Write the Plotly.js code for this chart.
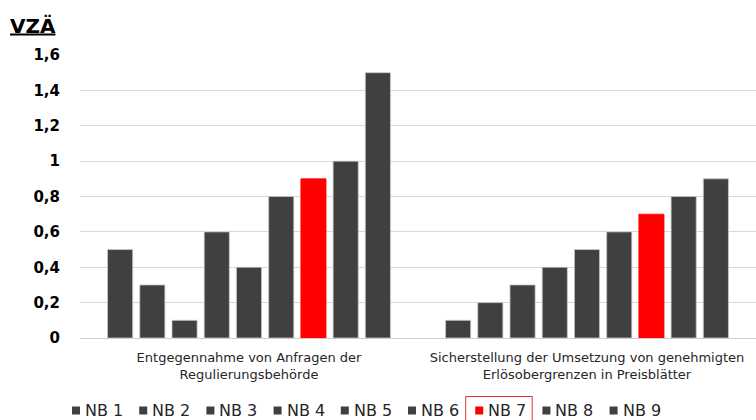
<!DOCTYPE html>
<html>
<head>
<meta charset="utf-8">
<script src="https://cdn.plot.ly/plotly-3.0.1.min.js"></script>
<style>
  html, body { margin: 0; padding: 0; background: #fff; }
  #chart { width: 756px; height: 420px; }
</style>
</head>
<body>
<div id="chart"></div>
<script>
const categories = [
  "Entgegennahme von Anfragen der<br>Regulierungsbehörde",
  "Sicherstellung der Umsetzung von genehmigten<br>Erlösobergrenzen in Preisblätter"
];
const seriesNames = ["NB 1", "NB 2", "NB 3", "NB 4", "NB 5", "NB 6", "NB 7", "NB 8", "NB 9"];
const valuesGroup1 = [0.5, 0.3, 0.1, 0.6, 0.4, 0.8, 0.9, 1.0, 1.5];
const valuesGroup2 = [0.1, 0.2, 0.3, 0.4, 0.5, 0.6, 0.7, 0.8, 0.9];
const highlightSeries = "NB 7";
const yTickVals = [0, 0.2, 0.4, 0.6, 0.8, 1, 1.2, 1.4, 1.6];
const yTickText = ["0", "0,2", "0,4", "0,6", "0,8", "1", "1,2", "1,4", "1,6"];

const FONT = "'DejaVu Sans', Verdana, sans-serif";
const GREY = "#404040";
const RED = "#ff0000";

// plot geometry (pixels)
const W = 756, H = 420;
const M = { l: 80, r: 0, t: 55, b: 82 };
const PW = W - M.l - M.r, PH = H - M.t - M.b;
const px2x = p => (p - M.l) / PW;
const py2y = p => (H - M.b - p) / PH;

const colorOf = name => name === highlightSeries ? RED : GREY;

const traces = seriesNames.map((name, i) => ({
  type: "bar",
  name: name,
  x: categories,
  y: [valuesGroup1[i], valuesGroup2[i]],
  marker: {
    color: colorOf(name),
    line: { color: name === highlightSeries ? RED : "#c8c8c8", width: 0.8 }
  },
  hoverinfo: "y+name",
  showlegend: false
}));

// custom legend (squares + labels) laid out like the reference
const legStart = 72, legStep = 67.2, legY = 410.5, sq = 8, txtOff = 11;
const shapes = [];
const annotations = [];
seriesNames.forEach((name, i) => {
  const x0 = legStart + legStep * i;
  shapes.push({
    type: "rect", xref: "paper", yref: "paper",
    x0: px2x(x0), x1: px2x(x0 + sq),
    y0: py2y(legY + sq / 2), y1: py2y(legY - sq / 2),
    fillcolor: colorOf(name), line: { width: 0 }
  });
  annotations.push({
    xref: "paper", yref: "paper",
    x: px2x(x0 + txtOff), y: py2y(legY),
    xanchor: "left", yanchor: "middle",
    text: name, showarrow: false,
    font: { family: FONT, size: 16, color: "#262626" }
  });
  if (name === highlightSeries) {
    shapes.push({
      type: "rect", xref: "paper", yref: "paper",
      x0: px2x(x0 - 9.5), x1: px2x(x0 + 57),
      y0: py2y(H + 2), y1: py2y(396.5),
      line: { color: "#e03030", width: 1 }, fillcolor: "rgba(0,0,0,0)"
    });
  }
});

const layout = {
  width: W,
  height: H,
  margin: M,
  paper_bgcolor: "#ffffff",
  plot_bgcolor: "#ffffff",
  font: { family: FONT, color: "#000" },
  title: {
    text: "<b><u>VZÄ</u></b>",
    x: 10 / W, xanchor: "left", xref: "container",
    y: 1 - 25.5 / H, yanchor: "middle", yref: "container",
    font: { family: FONT, size: 20, color: "#000" }
  },
  barmode: "group",
  bargap: 0.142,
  bargroupgap: 0.22,
  xaxis: {
    type: "category",
    range: [-0.5, 1.5],
    automargin: false,
    showgrid: false,
    showline: false,
    zeroline: false,
    ticks: "outside", ticklen: 7, tickcolor: "rgba(0,0,0,0)",
    tickfont: { family: FONT, size: 13, color: "#262626" }
  },
  yaxis: {
    range: [0, 1.6],
    automargin: false,
    tickvals: yTickVals,
    ticktext: yTickText.map(t => "<b>" + t + "</b>"),
    showgrid: true,
    gridcolor: "#d9d9d9",
    gridwidth: 1,
    zeroline: true,
    zerolinecolor: "#cfcfcf",
    zerolinewidth: 1,
    showline: false,
    ticks: "outside", ticklen: 16, tickcolor: "rgba(0,0,0,0)",
    tickfont: { family: FONT, size: 15, color: "#000" }
  },
  showlegend: false,
  shapes: shapes,
  annotations: annotations
};

Plotly.newPlot("chart", traces, layout, { displayModeBar: false, staticPlot: true });
</script>
</body>
</html>
